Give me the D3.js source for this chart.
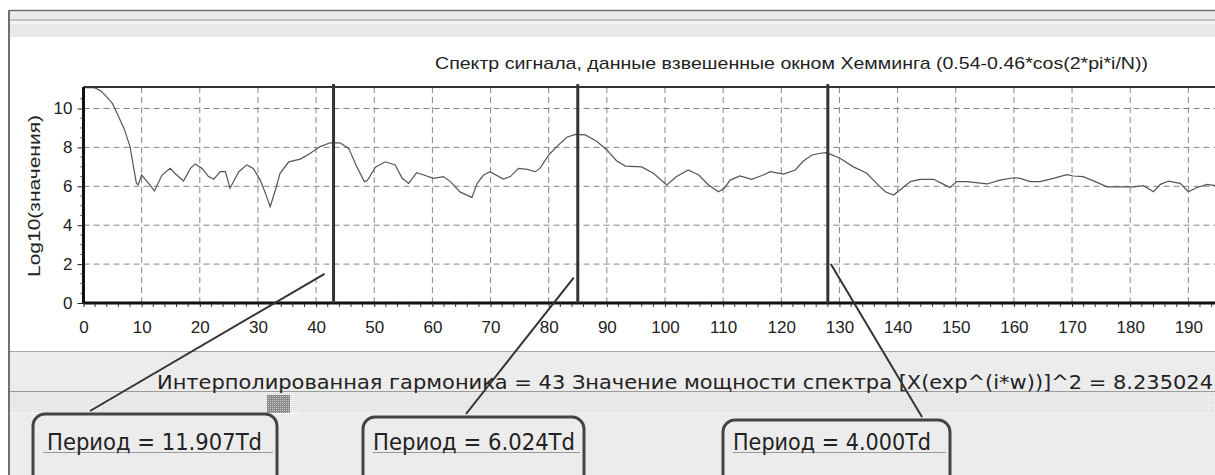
<!DOCTYPE html>
<html>
<head>
<meta charset="utf-8">
<script src="https://cdn.jsdelivr.net/npm/d3@7"></script>
<style>
  html, body { margin: 0; padding: 0; background: #fff; overflow: hidden; }
  svg { display: block; }
</style>
</head>
<body>
<svg id="chart" width="1215" height="475"></svg>
<script>
// Spectrum of the Hamming-weighted signal: log10 of power per harmonic bin
const N = 512;
const bins = [0, 1, 2, 3, 4, 5, 6, 7, 8, 8.6, 9.1, 9.4, 10.0, 11.2, 12.2, 13.5, 14.9, 15.7, 17.2, 18.4,
  19.2, 20.4, 21.5, 22.4, 23.5, 24.4, 25.2, 26.7, 28.1, 29.2, 30.4, 31.5, 32.1, 33.0, 33.8, 35.3,
  37.3, 39.0, 40.7, 42.4, 43, 44.1, 45.6, 47.0, 48.3, 48.8, 50.2, 51.9, 53.6, 54.8, 55.9, 57.3,
  58.5, 60.2, 61.9, 63.1, 64.8, 66.8, 67.7, 68.8, 69.9, 72.2, 73.4, 74.8, 76.3, 77.7, 78.5, 80.0,
  81.4, 83.1, 84.6, 86.3, 88.3, 90.0, 91.7, 93.2, 96.0, 98.0, 100.3, 102.0, 104.0, 105.8, 107.5,
  109.2, 110.2, 111.2, 112.9, 114.9, 116.9, 118.1, 120.4, 122.4, 123.8, 125.3, 126.7, 127.8,
  130.1, 132.4, 134.7, 136.4, 137.9, 139.3, 140.4, 142.2, 143.9, 146.2, 147.6, 149.0, 150.2,
  151.9, 155.4, 157.6, 159.9, 161.1, 162.8, 164.5, 166.8, 169.1, 170.2, 171.9, 174.3, 176.0,
  180.6, 182.3, 184.0, 185.2, 186.6, 188.6, 190.0, 191.5, 193.2, 194.6, 196];
const logPower = [11.07, 11.08, 11.06, 10.9, 10.6, 10.25, 9.6, 8.95, 8.04, 7.0, 6.15, 6.08, 6.58, 6.15,
  5.76, 6.58, 6.92, 6.67, 6.27, 6.92, 7.15, 6.92, 6.5, 6.36, 6.75, 6.75, 5.9, 6.75, 7.1, 6.92, 6.32,
  5.47, 4.95, 5.81, 6.67, 7.26, 7.4, 7.7, 8.04, 8.24, 8.235, 8.24, 7.95, 7.0, 6.24, 6.3, 6.98, 7.26,
  7.1, 6.41, 6.15, 6.7, 6.58, 6.41, 6.5, 6.24, 5.7, 5.43, 6.15, 6.58, 6.75, 6.37, 6.5, 6.92, 6.87,
  6.75, 6.92, 7.61, 8.04, 8.52, 8.67, 8.64, 8.3, 7.87, 7.3, 7.04, 7.0, 6.67, 6.07, 6.5, 6.84, 6.58,
  6.07, 5.72, 5.9, 6.32, 6.53, 6.36, 6.58, 6.75, 6.63, 6.84, 7.3, 7.61, 7.7, 7.73, 7.44, 7.0, 6.67,
  6.15, 5.72, 5.55, 5.81, 6.24, 6.36, 6.36, 6.15, 5.94, 6.24, 6.24, 6.12, 6.32, 6.44, 6.41, 6.24,
  6.24, 6.41, 6.6, 6.53, 6.5, 6.2, 5.97, 5.97, 6.03, 5.72, 6.1, 6.27, 6.15, 5.72, 5.94, 6.1, 6.03, 6.1];

// Marked harmonics and the readout for the first one
const harmonics = [43, 85, 128];
const interpolatedPower = 8.235024;

const xTickValues = [0, 10, 20, 30, 40, 50, 60, 70, 80, 90, 100, 110, 120, 130, 140, 150, 160, 170, 180, 190];
const yTickValues = [0, 2, 4, 6, 8, 10];

const titleText = "Спектр сигнала, данные взвешенные окном Хемминга (0.54-0.46*cos(2*pi*i/N))";
const yAxisTitle = "Log10(значения)";

const svg = d3.select("#chart");
const W = 1215, H = 475;

// ---- window chrome ----
svg.append("rect").attr("x", 0).attr("y", 0).attr("width", W).attr("height", H).attr("fill", "#fff");
svg.append("rect").attr("x", 9).attr("y", 10).attr("width", W - 9).attr("height", 10).attr("fill", "#ebebeb");
svg.append("rect").attr("x", 9).attr("y", 20).attr("width", W - 9).attr("height", 4).attr("fill", "#f4f4f4");
svg.append("rect").attr("x", 9).attr("y", 24).attr("width", W - 9).attr("height", 13).attr("fill", "#e9e9e9");
svg.append("line").attr("x1", 9).attr("x2", W).attr("y1", 10.5).attr("y2", 10.5).attr("stroke", "#707070").attr("stroke-width", 1.5);
svg.append("line").attr("x1", 9).attr("x2", W).attr("y1", 20).attr("y2", 20).attr("stroke", "#9a9a9a").attr("stroke-width", 1);

// lower status panel
svg.append("rect").attr("x", 9).attr("y", 351).attr("width", W - 9).attr("height", H - 351).attr("fill", "#ececec");
svg.append("line").attr("x1", 9).attr("x2", W).attr("y1", 351.5).attr("y2", 351.5).attr("stroke", "#a8a8a8");

const defs = svg.append("defs");
const pat = defs.append("pattern").attr("id", "hatch").attr("width", 2).attr("height", 2).attr("patternUnits", "userSpaceOnUse");
pat.append("rect").attr("width", 2).attr("height", 2).attr("fill", "#e4e4e4");
pat.append("rect").attr("width", 1).attr("height", 1).attr("fill", "#f6f6f6");
const patDark = defs.append("pattern").attr("id", "hatchDark").attr("width", 2).attr("height", 2).attr("patternUnits", "userSpaceOnUse");
patDark.append("rect").attr("width", 2).attr("height", 2).attr("fill", "#8a8a8a");
patDark.append("rect").attr("width", 1).attr("height", 1).attr("fill", "#c8c8c8");

svg.append("rect").attr("x", 10).attr("y", 392).attr("width", W - 10).attr("height", 21).attr("fill", "url(#hatch)");
svg.append("line").attr("x1", 9).attr("x2", W).attr("y1", 391.5).attr("y2", 391.5).attr("stroke", "#9c9c9c");
svg.append("line").attr("x1", 10).attr("x2", 300).attr("y1", 413.5).attr("y2", 413.5).attr("stroke", "#f8f8f8");
svg.append("rect").attr("x", 267).attr("y", 395).attr("width", 23).attr("height", 18).attr("fill", "url(#hatchDark)");

// left window edge
svg.append("line").attr("x1", 9).attr("x2", 9).attr("y1", 10).attr("y2", H).attr("stroke", "#707070").attr("stroke-width", 2);

// ---- plot ----
const x = d3.scaleLinear().domain([0, 200]).range([83.5, 83.5 + 200 * 5.815]);
const y = d3.scaleLinear().domain([0, 11.1]).range([303, 303 - 11.1 * 19.45]);

const plotLeft = x(0), plotTop = y(11.1), plotBottom = y(0);

// dashed grid
svg.append("g").selectAll("line.gx").data(xTickValues.filter(d => d > 0)).join("line")
  .attr("x1", d => x(d)).attr("x2", d => x(d)).attr("y1", plotTop).attr("y2", plotBottom)
  .attr("stroke", "#858585").attr("stroke-width", 1).attr("stroke-dasharray", "6,4");
svg.append("g").selectAll("line.gy").data(yTickValues.filter(d => d > 0)).join("line")
  .attr("x1", plotLeft).attr("x2", W).attr("y1", d => y(d)).attr("y2", d => y(d))
  .attr("stroke", "#858585").attr("stroke-width", 1).attr("stroke-dasharray", "6,4");

// spectrum curve
const pts = bins.map((b, i) => [b, logPower[i]]);
svg.append("path").datum(pts)
  .attr("fill", "none").attr("stroke", "#555").attr("stroke-width", 1.2)
  .attr("d", d3.line().x(d => x(d[0])).y(d => y(d[1])));

// frame top
svg.append("line").attr("x1", plotLeft).attr("x2", W).attr("y1", plotTop).attr("y2", plotTop)
  .attr("stroke", "#333").attr("stroke-width", 2);

// x axis
const xAxis = d3.axisBottom(x).tickValues(xTickValues).tickSize(4).tickFormat(d3.format("d"));
const gx = svg.append("g").attr("transform", `translate(0,${plotBottom})`).call(xAxis);
gx.select(".domain").attr("stroke", "#111").attr("stroke-width", 3).attr("d", `M${plotLeft},0H${W}`);
gx.selectAll(".tick line").attr("stroke", "#222");
gx.selectAll(".tick text").attr("y", 18).attr("dy", "0.71em")
  .attr("font-family", "Liberation Sans, Arial, sans-serif").attr("font-size", 17).attr("fill", "#222");
// minor x ticks
const xMinor = d3.range(0, 200, 2).filter(d => d % 10 !== 0);
svg.append("g").selectAll("line").data(xMinor).join("line")
  .attr("x1", d => x(d)).attr("x2", d => x(d)).attr("y1", plotBottom).attr("y2", plotBottom + 4)
  .attr("stroke", "#333").attr("stroke-width", 1);

// y axis
const yAxis = d3.axisLeft(y).tickValues(yTickValues).tickSize(6).tickFormat(d3.format("d"));
const gy = svg.append("g").attr("transform", `translate(${plotLeft},0)`).call(yAxis);
gy.select(".domain").attr("stroke", "#111").attr("stroke-width", 3).attr("d", `M0,${plotTop}V${plotBottom}`);
gy.selectAll(".tick line").attr("stroke", "#222");
gy.selectAll(".tick text").attr("x", -11)
  .attr("font-family", "Liberation Sans, Arial, sans-serif").attr("font-size", 17).attr("fill", "#222");
const yMinor = d3.range(0, 11, 0.5).filter(d => d % 2 !== 0);
svg.append("g").selectAll("line").data(yMinor).join("line")
  .attr("x1", plotLeft - 3).attr("x2", plotLeft).attr("y1", d => y(d)).attr("y2", d => y(d))
  .attr("stroke", "#333").attr("stroke-width", 1);

// harmonic markers
svg.append("g").selectAll("line").data(harmonics).join("line")
  .attr("x1", d => x(d)).attr("x2", d => x(d)).attr("y1", plotBottom).attr("y2", plotTop - 3)
  .attr("stroke", "#333").attr("stroke-width", 3);

// titles
svg.append("text").attr("x", 435).attr("y", 69)
  .attr("font-family", "Liberation Sans, Arial, sans-serif").attr("font-size", 17).attr("fill", "#222")
  .attr("textLength", 713).attr("lengthAdjust", "spacingAndGlyphs")
  .text(titleText);
svg.append("text").attr("transform", "translate(40,196) rotate(-90)").attr("text-anchor", "middle")
  .attr("font-family", "Liberation Sans, Arial, sans-serif").attr("font-size", 17).attr("fill", "#222")
  .attr("textLength", 162).attr("lengthAdjust", "spacingAndGlyphs")
  .text(yAxisTitle);

// readout line in the status panel
const readout = `Интерполированная гармоника = ${harmonics[0]} Значение мощности спектра [X(exp^(i*w))]^2 =  ${d3.format(".6f")(interpolatedPower)}`;
svg.append("text").attr("x", 157).attr("y", 389)
  .attr("font-family", "DejaVu Sans, sans-serif").attr("font-size", 20).attr("fill", "#222")
  .attr("textLength", 1056).attr("lengthAdjust", "spacingAndGlyphs")
  .text(readout);

// period callouts
const boxes = [
  { x0: 33, x1: 277, top: 414, tx: 47, tw: 215 },
  { x0: 363, x1: 584, top: 417, tx: 373, tw: 202 },
  { x0: 723, x1: 950, top: 420, tx: 733, tw: 198 }
];
const tipOffset = [-9, -4, 3];
const tipValue = [1.5, 1.3, 2.0];
const anchorX = [90, 466, 922];
const fmt = d3.format(".3f");

harmonics.forEach((h, i) => {
  const b = boxes[i];
  const g = svg.append("g");
  g.append("rect").attr("x", b.x0).attr("y", b.top).attr("width", b.x1 - b.x0).attr("height", 80)
    .attr("rx", 12).attr("ry", 12).attr("fill", "#ececec").attr("stroke", "#444").attr("stroke-width", 3);
  g.append("line").attr("x1", b.x0 + 10).attr("x2", b.x1 - 4).attr("y1", 452.5).attr("y2", 452.5)
    .attr("stroke", "#9a9a9a").attr("stroke-width", 1);
  g.append("text").attr("x", b.tx).attr("y", 450)
    .attr("font-family", "DejaVu Sans, sans-serif").attr("font-size", 23).attr("fill", "#222")
    .attr("textLength", b.tw).attr("lengthAdjust", "spacingAndGlyphs")
    .text(`Период =  ${fmt(N / h)}Td`);
  svg.append("line")
    .attr("x1", anchorX[i]).attr("y1", b.top - 3)
    .attr("x2", x(h) + tipOffset[i]).attr("y2", y(tipValue[i]))
    .attr("stroke", "#333").attr("stroke-width", 2);
});
</script>
</body>
</html>
